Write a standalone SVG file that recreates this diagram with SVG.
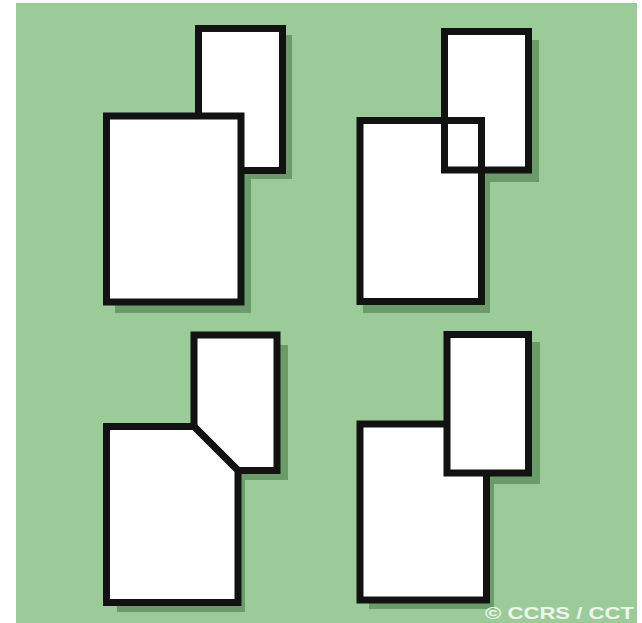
<svg xmlns="http://www.w3.org/2000/svg" width="642" height="623" viewBox="0 0 642 623">
<style>
.sh{fill:#6b9b69}
.pg{fill:#ffffff;stroke:#121212;stroke-width:7;stroke-linejoin:miter}
.nf{fill:none;stroke:#121212;stroke-width:7}
.wf{fill:#ffffff;stroke:none}
.cr{font-family:"Liberation Sans",Arial,sans-serif;font-weight:bold;font-size:17px;fill:#eef6ec}
</style>
<rect x="0" y="0" width="642" height="623" fill="#ffffff"/>
<rect x="16" y="3" width="621" height="620" fill="#9acb98"/>
<g id="shadows">
<rect class="sh" x="204" y="35" width="88" height="144"/>
<rect class="sh" x="115" y="122" width="136" height="191"/>
<rect class="sh" x="450" y="40" width="89" height="142"/>
<rect class="sh" x="363" y="127" width="127" height="186"/>
<rect class="sh" x="200" y="345" width="88" height="135"/>
<rect class="sh" x="117" y="435" width="128" height="177"/>
<rect class="sh" x="452" y="342" width="88" height="142"/>
<rect class="sh" x="369" y="430" width="125" height="179"/>
</g>
<g id="panel1">
<g id="p1-small"><rect class="pg" x="198.5" y="28.5" width="84" height="142"/></g>
<g id="p1-large"><rect class="pg" x="106.5" y="116" width="134.5" height="186"/></g>
</g>
<g id="panel2">
<g id="p2-small"><rect class="wf" x="444.5" y="31.5" width="84" height="138.5"/></g>
<g id="p2-large"><rect class="wf" x="360" y="120.5" width="121.5" height="181"/></g>
<rect class="nf" x="444.5" y="31.5" width="84" height="138.5"/>
<rect class="nf" x="360" y="120.5" width="121.5" height="181"/>
</g>
<g id="panel3">
<g id="p3-small"><polygon class="pg" points="194,335 277,335 277,470.5 238,470.5 194,426.5"/></g>
<g id="p3-large"><polygon class="pg" points="106.5,426.5 194,426.5 238,470.5 238,602.5 106.5,602.5"/></g>
</g>
<g id="panel4">
<g id="p4-large"><rect class="pg" x="360" y="424" width="126.5" height="176"/></g>
<g id="p4-small"><rect class="pg" x="447" y="334.5" width="81.5" height="138.5"/></g>
</g>
<g id="connectors"/>
<text class="cr" x="485" y="619" textLength="149" lengthAdjust="spacingAndGlyphs">© CCRS / CCT</text>
</svg>
